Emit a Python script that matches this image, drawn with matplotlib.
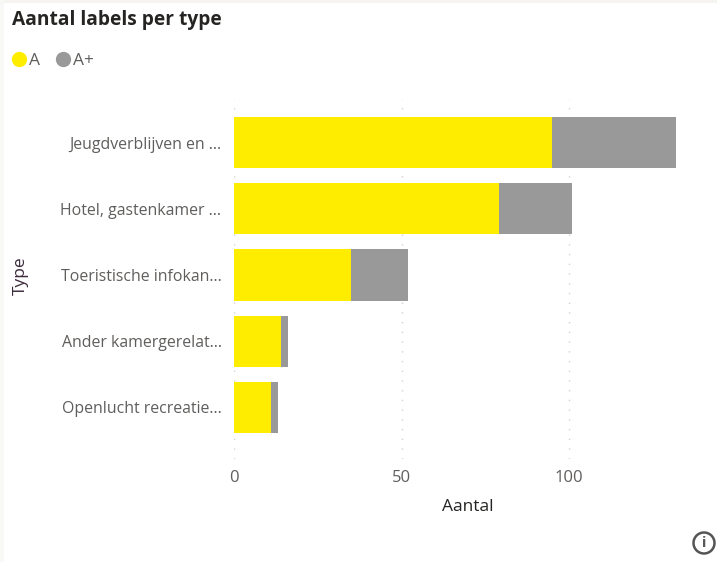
import matplotlib
matplotlib.use('Agg')
import matplotlib.pyplot as plt
from matplotlib.lines import Line2D
from matplotlib.patches import Circle, Rectangle

types = ['Jeugdverblijven en ...', 'Hotel, gastenkamer ...', 'Toeristische infokan...',
         'Ander kamergerelat...', 'Openlucht recreatie...']
a_vals = [95, 79, 35, 14, 11]
aplus_vals = [37, 22, 17, 2, 2]
xticks = [0, 50, 100]

W, H = 717, 562
YELLOW = '#FFED00'
GREY = '#999999'
TXT = '#605E5C'

plt.rcParams['font.family'] = ['Open Sans', 'DejaVu Sans']

fig = plt.figure(figsize=(W / 100, H / 100), dpi=100)

# off-white strips of the report page
fig.add_artist(Rectangle((0, 1 - 3 / H), 1, 3 / H, transform=fig.transFigure, color='#F5F4F0', lw=0))
fig.add_artist(Rectangle((0, 0), 4 / W, 1, transform=fig.transFigure, color='#F8F8F6', lw=0))

ax = fig.add_axes([234 / W, 1 - 458.5 / H, (690 - 234) / W, 360 / H])
ypos = list(range(len(types)))
ax.barh(ypos, a_vals, height=0.775, color=YELLOW, label='A', zorder=2)
ax.barh(ypos, aplus_vals, left=a_vals, height=0.775, color=GREY, label='A+', zorder=2)

ax.set_xlim(0, (690 - 234) / 3.35)
ax.set_ylim(4.77, -0.665)
ax.set_xticks(xticks)
ax.set_yticks(ypos)
ax.set_yticklabels(types)
ax.tick_params(length=0, labelsize=11.4, labelcolor=TXT)
ax.tick_params(axis='y', pad=9)
ax.tick_params(axis='x', labelsize=12, pad=8)
ax.grid(axis='x', color='#D2D2D2', linestyle=(0, (1, 6)), linewidth=1, zorder=0)
for s in ax.spines.values():
    s.set_visible(False)

fig.text(468 / W, 1 - 507 / H, 'Aantal', fontsize=12.5, color='#252423', ha='center', va='center')
fig.text(21 / W, 1 - 276 / H, 'Type', fontsize=12.5, color='#3A2A3A', rotation=90, ha='center', va='center')
fig.text(12 / W, 1 - 20 / H, 'Aantal labels per type', fontsize=13.8, fontweight='bold',
         color='#252423', ha='left', va='center')

handles = [Line2D([], [], marker='o', ls='', ms=10, color=YELLOW),
           Line2D([], [], marker='o', ls='', ms=10, color=GREY)]
fig.legend(handles, ['A', 'A+'], loc='center left', bbox_to_anchor=(6 / W, 1 - 60.5 / H), ncol=2,
           frameon=False, fontsize=12.5, labelcolor=TXT, handletextpad=-0.15, columnspacing=0.55,
           handlelength=1.5, borderpad=0, borderaxespad=0)

# info icon
fig.add_artist(Circle((704, H - 543), 10.5, transform=None, fc='white', ec='#555555', lw=1.8))
fig.text(704 / W, 1 - 543 / H, 'i', fontsize=10.5, fontweight='bold', color='#555555', ha='center', va='center')

fig.savefig('out.png', dpi=100)
